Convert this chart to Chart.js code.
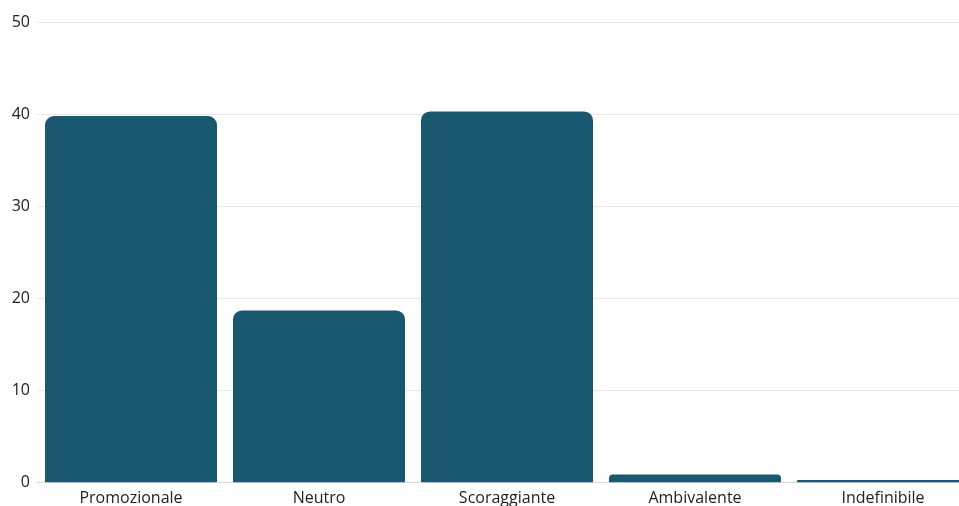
<!DOCTYPE html>
<html>
<head>
<meta charset="utf-8">
<script src="https://cdn.jsdelivr.net/npm/chart.js@4"></script>
<style>
  html, body { margin: 0; padding: 0; background: #fff; overflow: hidden; }
  #wrap { width: 977px; height: 506px; position: relative; }
</style>
</head>
<body>
<div id="wrap"><canvas id="chart"></canvas></div>
<script>
// categorie e valori
const categories = ["Promozionale", "Neutro", "Scoraggiante", "Ambivalente", "Indefinibile"];
const values = [39.8, 18.7, 40.3, 0.9, 0.3];
const yTicks = [0, 10, 20, 30, 40, 50];

const ctx = document.getElementById("chart").getContext("2d");

new Chart(ctx, {
  type: "bar",
  data: {
    labels: categories,
    datasets: [{
      data: values,
      backgroundColor: "#1a5870",
      borderRadius: { topLeft: 9, topRight: 9 },
      borderSkipped: "bottom",
      categoryPercentage: 1,
      barPercentage: 0.915
    }]
  },
  options: {
    responsive: true,
    maintainAspectRatio: false,
    animation: false,
    layout: { padding: { top: 22, left: 0, right: 0, bottom: 0 } },
    plugins: {
      legend: { display: false },
      tooltip: { enabled: false }
    },
    scales: {
      x: {
        grid: { display: false },
        border: { display: true, color: "#d8d8d8" },
        ticks: {
          color: "#222",
          font: { family: "Open Sans", size: 16, weight: 500 },
          padding: -2,
          maxRotation: 0
        }
      },
      y: {
        min: 0,
        max: 50,
        afterBuildTicks: function (axis) {
          axis.ticks = yTicks.map(function (v) { return { value: v }; });
        },
        afterFit: function (axis) { axis.width = 37; },
        grid: { color: "#e8e8e8", drawTicks: false },
        border: { display: false },
        ticks: {
          color: "#222",
          font: { family: "Open Sans", size: 16, weight: 500 },
          padding: 7
        }
      }
    }
  }
});
</script>
</body>
</html>
